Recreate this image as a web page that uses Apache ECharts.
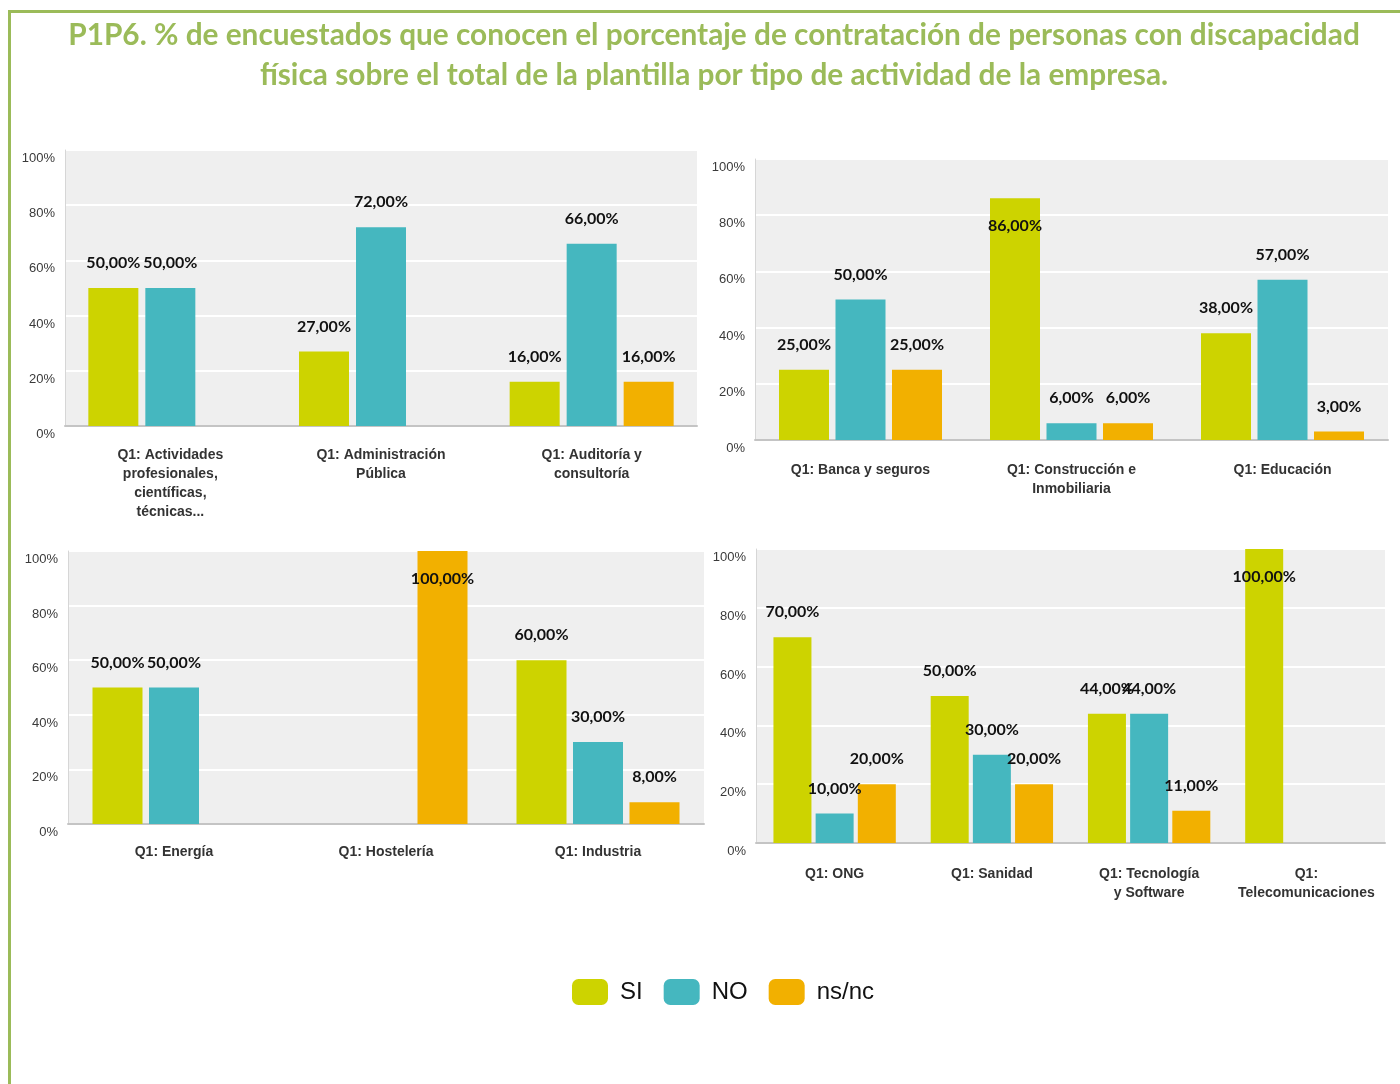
<!DOCTYPE html>
<html>
<head>
<meta charset="utf-8">
<script src="https://cdn.jsdelivr.net/npm/echarts@6/dist/echarts.min.js"></script>
<style>
  html, body { margin: 0; padding: 0; background: #fff; }
  #chart { width: 1400px; height: 1084px; }
</style>
</head>
<body>
<div id="chart"></div>
<script>
// datos por panel (valores en %)
var categories1 = ['Q1: Actividades\nprofesionales,\ncientíficas,\ntécnicas...', 'Q1: Administración\nPública', 'Q1: Auditoría y\nconsultoría']
var si1 = [50, 27, 16]
var no1 = [50, 72, 66]
var ns1 = [null, null, 16]

var categories2 = ['Q1: Banca y seguros', 'Q1: Construcción e\nInmobiliaria', 'Q1: Educación']
var si2 = [25, 86, 38]
var no2 = [50, 6, 57]
var ns2 = [25, 6, 3]

var categories3 = ['Q1: Energía', 'Q1: Hostelería', 'Q1: Industria']
var si3 = [50, null, 60]
var no3 = [50, null, 30]
var ns3 = [null, 100, 8]

var categories4 = ['Q1: ONG', 'Q1: Sanidad', 'Q1: Tecnología\ny Software', 'Q1:\nTelecomunicaciones']
var si4 = [70, 50, 44, 100]
var no4 = [10, 30, 44, null]
var ns4 = [20, 20, 11, null]

var seriesNames = ['SI', 'NO', 'ns/nc']
var colors = { 'SI': '#CDD300', 'NO': '#45B7BF', 'ns/nc': '#F2B000' }

var titleText = 'P1P6. % de encuestados que conocen el porcentaje de contratación de personas con discapacidad\nfísica sobre el total de la plantilla por tipo de actividad de la empresa.'

// posiciones de los 4 paneles
var grids = [
  { left: 65, right: 703, top: 150, bottom: 658, labelMargin: 20 },
  { left: 755, right: 12, top: 159, bottom: 644, labelMargin: 21 },
  { left: 68, right: 696, top: 551, bottom: 260, labelMargin: 19 },
  { left: 756, right: 15, top: 549, bottom: 241, labelMargin: 22 },
]
var panels = [
  { cats: categories1, vals: [si1, no1, ns1], barWidth: 50, barGap: '14%' },
  { cats: categories2, vals: [si2, no2, ns2], barWidth: 50, barGap: '13%' },
  { cats: categories3, vals: [si3, no3, ns3], barWidth: 50, barGap: '13%' },
  { cats: categories4, vals: [si4, no4, ns4], barWidth: 38, barGap: '11%' },
]

function fmt (v) {
  return v.toFixed(2).replace('.', ',') + '%'
}

var gridOpts = []
var xAxes = []
var yAxes = []
var series = []

grids.forEach(function (g, i) {
  gridOpts.push({
    left: g.left, right: g.right, top: g.top, bottom: g.bottom,
    show: true, backgroundColor: '#EFEFEF', borderWidth: 0,
  })
  xAxes.push({
    type: 'category',
    gridIndex: i,
    data: panels[i].cats,
    axisTick: { show: false },
    axisLine: { lineStyle: { color: '#C4C4C4', width: 2 } },
    axisLabel: {
      interval: 0,
      margin: g.labelMargin,
      color: '#333',
      fontFamily: 'Liberation Sans',
      fontWeight: 'bold',
      fontSize: 14,
      lineHeight: 19,
    },
  })
  yAxes.push({
    type: 'value',
    gridIndex: i,
    min: 0,
    max: 100,
    interval: 20,
    axisLine: { show: true, lineStyle: { color: '#D6D6D6', width: 1 } },
    axisTick: { show: false },
    splitLine: { lineStyle: { color: '#FFFFFF', width: 2 } },
    axisLabel: {
      formatter: '{value}%',
      margin: 10,
      color: '#3A3A3A',
      fontFamily: 'Liberation Sans',
      fontSize: 13,
      verticalAlign: 'top',
      padding: [2, 0, 0, 0],
    },
  })
  panels[i].vals.forEach(function (arr, k) {
    var name = seriesNames[k]
    series.push({
      name: name,
      type: 'bar',
      xAxisIndex: i,
      yAxisIndex: i,
      barWidth: panels[i].barWidth,
      barGap: panels[i].barGap,
      itemStyle: { color: colors[name] },
      data: arr.map(function (v) {
        if (v === null) return '-'
        // las barras muy altas llevan la etiqueta dentro
        if (v > 80) {
          return { value: v, label: { position: 'insideTop', distance: 20 } }
        }
        return v
      }),
      label: {
        show: true,
        position: 'top',
        distance: 17,
        color: '#111',
        fontFamily: 'Lato',
        fontWeight: 'bold',
        fontSize: 16,
        formatter: function (p) { return fmt(p.value) },
      },
    })
  })
})

var option = {
  animation: false,
  title: {
    text: titleText,
    left: 709,
    top: 10,
    textAlign: 'center',
    textStyle: {
      color: '#9BBB59',
      fontFamily: 'Lato',
      fontWeight: 'bold',
      fontSize: 29.8,
      lineHeight: 40,
    },
  },
  legend: {
    data: seriesNames,
    left: 572,
    top: 979,
    padding: 0,
    itemWidth: 36,
    itemHeight: 26,
    itemGap: 21,
    icon: 'roundRect',
    textStyle: {
      fontFamily: 'Liberation Sans',
      fontSize: 24,
      color: '#111',
      padding: [0, 0, 0, 7],
    },
  },
  graphic: [
    { type: 'rect', shape: { x: 8, y: 10, width: 1392, height: 3 }, style: { fill: '#9BBB59' } },
    { type: 'rect', shape: { x: 8, y: 10, width: 3, height: 1074 }, style: { fill: '#9BBB59' } },
  ],
  grid: gridOpts,
  xAxis: xAxes,
  yAxis: yAxes,
  series: series,
}

var myChart = echarts.init(document.getElementById('chart'))
myChart.setOption(option)
</script>
</body>
</html>
